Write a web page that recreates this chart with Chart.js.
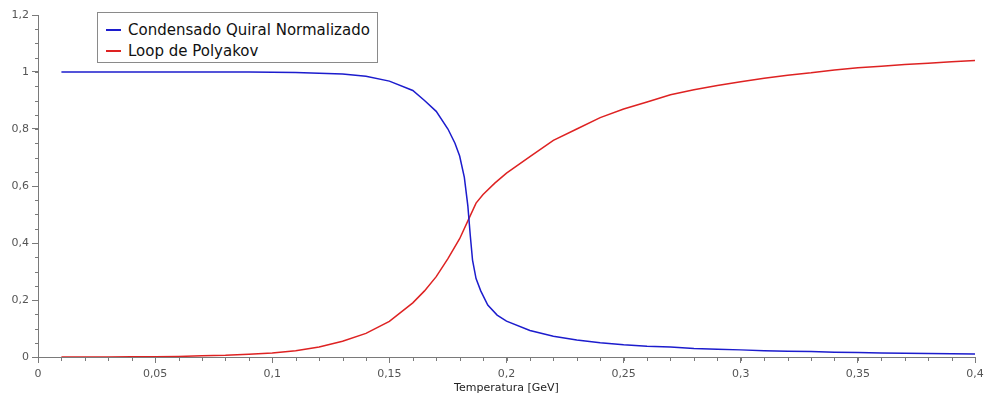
<!DOCTYPE html>
<html>
<head>
<meta charset="utf-8">
<script src="https://cdn.jsdelivr.net/npm/chart.js@4/dist/chart.umd.min.js"></script>
<style>
  html, body { margin: 0; padding: 0; background: #fff; }
  #wrap { position: relative; width: 989px; height: 400px; }
  #c { display: block; }
  #legend {
    position: absolute; left: 97px; top: 12px; width: 279px; height: 49px;
    border: 1px solid #8a8a8a; background: #fff;
    font-family: "DejaVu Sans", Verdana, sans-serif; font-size: 15px; color: #111;
  }
  #legend .item { position: absolute; left: 8px; height: 20px; line-height: 20px; white-space: nowrap; }
  #legend .swatch { display: inline-block; width: 15px; height: 2px; vertical-align: middle; margin-right: 7px; position: relative; top: -1px; }
</style>
</head>
<body>
<div id="wrap">
  <canvas id="c" width="989" height="400"></canvas>
  <div id="legend"></div>
</div>
<script>
// ---- Data ----
const seriesNames = ['Condensado Quiral Normalizado', 'Loop de Polyakov'];

const condT = [0.01,0.02,0.03,0.04,0.05,0.06,0.07,0.08,0.09,0.10,0.11,0.12,0.13,0.14,0.15,0.16,0.165,0.17,0.175,0.178,0.18,0.182,0.1835,0.1845,0.1855,0.187,0.189,0.192,0.196,0.20,0.21,0.22,0.23,0.24,0.25,0.26,0.27,0.28,0.29,0.30,0.31,0.32,0.33,0.34,0.35,0.36,0.37,0.38,0.39,0.40];
const condV = [1.0,1.0,1.0,1.0,1.0,1.0,1.0,1.0,1.0,0.999,0.998,0.996,0.993,0.985,0.968,0.935,0.90,0.862,0.80,0.75,0.705,0.63,0.53,0.43,0.34,0.275,0.232,0.182,0.147,0.126,0.093,0.073,0.06,0.05,0.043,0.038,0.035,0.03,0.027,0.025,0.022,0.02,0.019,0.017,0.016,0.014,0.013,0.012,0.011,0.0105];

const polyT = [0.01,0.02,0.03,0.04,0.05,0.06,0.07,0.08,0.09,0.10,0.11,0.12,0.13,0.14,0.15,0.16,0.165,0.17,0.175,0.18,0.1837,0.187,0.19,0.195,0.20,0.21,0.22,0.23,0.24,0.25,0.26,0.27,0.28,0.29,0.30,0.31,0.32,0.33,0.34,0.35,0.36,0.37,0.38,0.39,0.40];
const polyV = [0.0,0.0,0.0,0.0005,0.001,0.002,0.004,0.006,0.01,0.014,0.022,0.035,0.055,0.083,0.125,0.19,0.232,0.282,0.345,0.415,0.481,0.54,0.57,0.61,0.645,0.703,0.76,0.80,0.84,0.87,0.895,0.92,0.938,0.953,0.966,0.978,0.989,0.997,1.007,1.015,1.02,1.026,1.031,1.036,1.04];

const xTicks = [0,0.05,0.1,0.15,0.2,0.25,0.3,0.35,0.4];
const xTickLabels = ['0','0,05','0,1','0,15','0,2','0,25','0,3','0,35','0,4'];
const yTicks = [0,0.2,0.4,0.6,0.8,1.0,1.2];
const yTickLabels = ['0','0,2','0,4','0,6','0,8','1','1,2'];
const xMinorStep = 0.01;
const yMinorStep = 0.05;
const xTitle = 'Temperatura [GeV]';

const colors = ['rgb(28,28,205)', 'rgb(222,34,34)'];

// ---- Build ----
const toPts = (xs, ys) => xs.map((x, i) => ({ x: x, y: ys[i] }));

const axisColor = '#7a7a7a';
const tickFont = { family: '"DejaVu Sans", Verdana, sans-serif', size: 11 };

const minorTicks = {
  id: 'minorTicks',
  afterDraw(chart) {
    const ctx = chart.ctx;
    const xs = chart.scales.x, ys = chart.scales.y;
    ctx.save();
    ctx.strokeStyle = axisColor;
    ctx.lineWidth = 1;
    ctx.beginPath();
    const nx = Math.round((xs.max - xs.min) / xMinorStep);
    for (let i = 0; i <= nx; i++) {
      const v = xs.min + i * xMinorStep;
      const px = Math.round(xs.getPixelForValue(v)) + 0.5;
      ctx.moveTo(px, xs.top);
      ctx.lineTo(px, xs.top + 4);
    }
    const ny = Math.round((ys.max - ys.min) / yMinorStep);
    for (let i = 0; i <= ny; i++) {
      const v = ys.min + i * yMinorStep;
      const py = Math.round(ys.getPixelForValue(v)) + 0.5;
      ctx.moveTo(ys.right, py);
      ctx.lineTo(ys.right - 3, py);
    }
    ctx.stroke();
    ctx.restore();
  }
};

const chart = new Chart(document.getElementById('c'), {
  type: 'line',
  data: {
    datasets: [
      { label: seriesNames[0], data: toPts(condT, condV), borderColor: colors[0], borderWidth: 1.5, pointRadius: 0, tension: 0, fill: false },
      { label: seriesNames[1], data: toPts(polyT, polyV), borderColor: colors[1], borderWidth: 1.5, pointRadius: 0, tension: 0, fill: false }
    ]
  },
  options: {
    responsive: false,
    animation: false,
    events: [],
    layout: { padding: { top: 15, right: 14, left: 0, bottom: 0 } },
    plugins: { legend: { display: false }, tooltip: { enabled: false } },
    scales: {
      x: {
        type: 'linear', min: 0, max: 0.4,
        afterBuildTicks: (s) => { s.ticks = xTicks.map(v => ({ value: v })); },
        afterFit: (s) => { s.height = 43; },
        ticks: { callback: (v, i) => xTickLabels[i], color: '#555', font: tickFont, padding: 5, maxRotation: 0, autoSkip: false },
        grid: { drawOnChartArea: false, drawTicks: true, tickLength: 6, color: axisColor },
        border: { color: axisColor, width: 1 },
        title: { display: true, text: xTitle, color: '#222', font: { family: '"DejaVu Sans", Verdana, sans-serif', size: 11 }, padding: { top: 1, bottom: 5 } }
      },
      y: {
        type: 'linear', min: 0, max: 1.2,
        afterBuildTicks: (s) => { s.ticks = yTicks.map(v => ({ value: v })); },
        afterFit: (s) => { s.width = 38; },
        ticks: { callback: (v, i) => yTickLabels[i], color: '#555', font: tickFont, padding: 3, autoSkip: false },
        grid: { drawOnChartArea: false, drawTicks: true, tickLength: 6, color: axisColor },
        border: { color: axisColor, width: 1 }
      }
    }
  },
  plugins: [minorTicks]
});

// HTML legend
const leg = document.getElementById('legend');
seriesNames.forEach((name, i) => {
  const d = document.createElement('div');
  d.className = 'item';
  d.style.top = (7 + i * 21) + 'px';
  const sw = document.createElement('span');
  sw.className = 'swatch';
  sw.style.background = colors[i];
  d.appendChild(sw);
  d.appendChild(document.createTextNode(name));
  leg.appendChild(d);
});
</script>
</body>
</html>
